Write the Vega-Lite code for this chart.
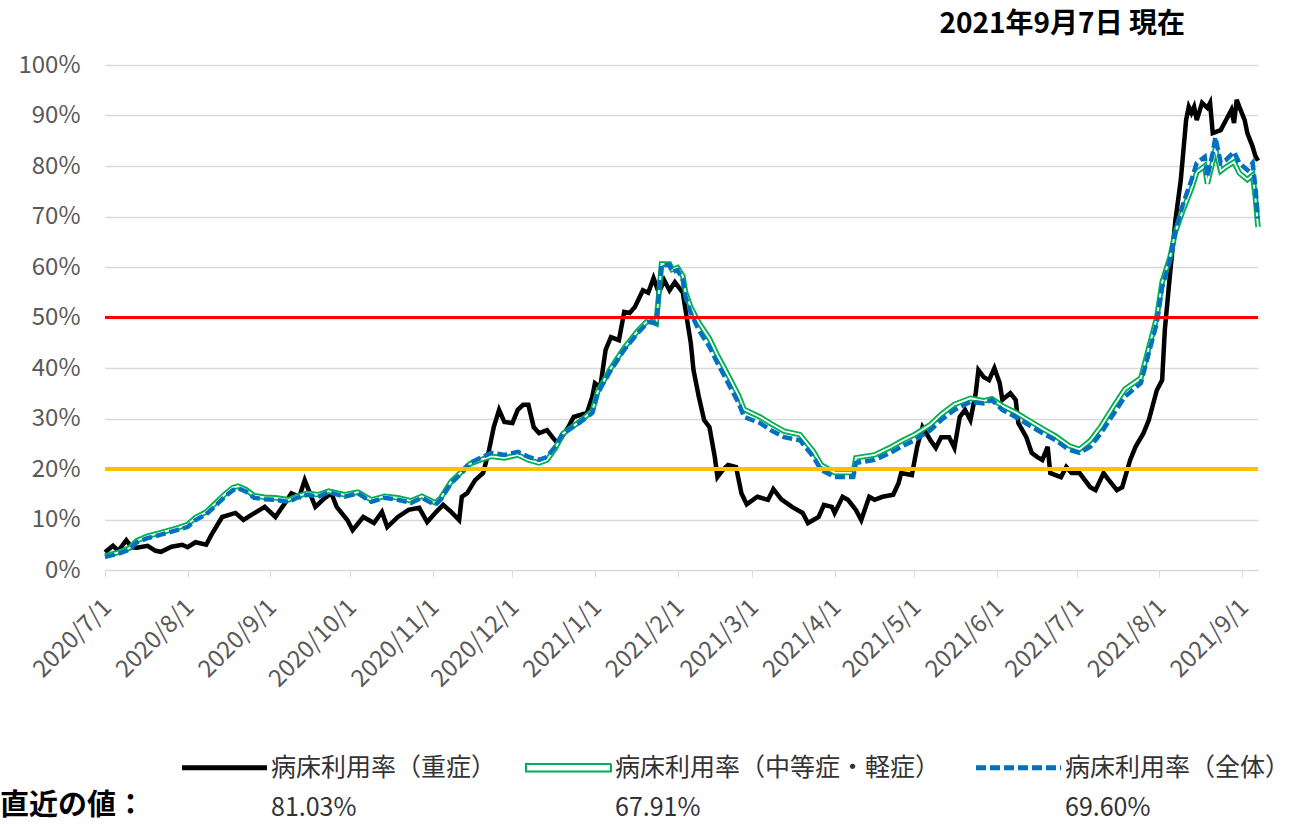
{
  "$schema": "https://vega.github.io/schema/vega-lite/v6.json",
  "autosize": {"type": "none"},
  "padding": {"left": 105, "top": 65, "right": 36, "bottom": 255},
  "width": 1153,
  "height": 505,
  "background": "white",
  "title": {"text": "2021年9月7日 現在", "anchor": "end", "frame": "group", "offset": 14, "dx": -73, "fontSize": 28, "fontWeight": "bold", "font": "Noto Sans CJK JP", "color": "#000000"},
  "config": {
    "view": {"stroke": null},
    "axis": {"labelFont": "Noto Sans CJK JP", "labelColor": "#595959", "labelFontSize": 24, "title": null},
    "legend": {
      "orient": "none",
      "legendX": -105,
      "legendY": 690,
      "direction": "horizontal",
      "padding": 0,
      "titleOrient": "left",
      "titleAnchor": "end",
      "titleBaseline": "bottom",
      "titlePadding": 66,
      "titleFont": "Noto Sans CJK JP",
      "titleFontSize": 29,
      "titleFontWeight": "bold",
      "titleColor": "#000000",
      "symbolType": "stroke",
      "symbolSize": 7225,
      "symbolStrokeWidth": 5,
      "labelFont": "Noto Sans CJK JP",
      "labelFontSize": 25,
      "labelColor": "#333333",
      "labelOffset": 7,
      "labelLimit": 600,
      "columnPadding": 25
    }
  },
  "data": {"values": [
    {"date":"2020-07-01","series":"重症","value":3.5},
    {"date":"2020-07-04","series":"重症","value":4.8},
    {"date":"2020-07-06","series":"重症","value":3.8},
    {"date":"2020-07-09","series":"重症","value":5.9},
    {"date":"2020-07-11","series":"重症","value":4.5},
    {"date":"2020-07-13","series":"重症","value":4.4},
    {"date":"2020-07-17","series":"重症","value":4.8},
    {"date":"2020-07-20","series":"重症","value":3.8},
    {"date":"2020-07-22","series":"重症","value":3.6},
    {"date":"2020-07-26","series":"重症","value":4.6},
    {"date":"2020-07-30","series":"重症","value":5.0},
    {"date":"2020-08-01","series":"重症","value":4.5},
    {"date":"2020-08-04","series":"重症","value":5.5},
    {"date":"2020-08-08","series":"重症","value":5.0},
    {"date":"2020-08-10","series":"重症","value":7.0},
    {"date":"2020-08-14","series":"重症","value":10.5},
    {"date":"2020-08-19","series":"重症","value":11.3},
    {"date":"2020-08-22","series":"重症","value":9.9},
    {"date":"2020-08-25","series":"重症","value":10.9},
    {"date":"2020-08-30","series":"重症","value":12.5},
    {"date":"2020-09-03","series":"重症","value":10.5},
    {"date":"2020-09-06","series":"重症","value":12.8},
    {"date":"2020-09-09","series":"重症","value":15.2},
    {"date":"2020-09-12","series":"重症","value":14.5},
    {"date":"2020-09-14","series":"重症","value":17.8},
    {"date":"2020-09-18","series":"重症","value":12.5},
    {"date":"2020-09-21","series":"重症","value":14.0},
    {"date":"2020-09-24","series":"重症","value":15.2},
    {"date":"2020-09-26","series":"重症","value":12.5},
    {"date":"2020-09-30","series":"重症","value":9.9},
    {"date":"2020-10-02","series":"重症","value":7.9},
    {"date":"2020-10-06","series":"重症","value":10.5},
    {"date":"2020-10-10","series":"重症","value":9.3},
    {"date":"2020-10-13","series":"重症","value":11.5},
    {"date":"2020-10-15","series":"重症","value":8.5},
    {"date":"2020-10-19","series":"重症","value":10.5},
    {"date":"2020-10-23","series":"重症","value":11.9},
    {"date":"2020-10-27","series":"重症","value":12.3},
    {"date":"2020-10-30","series":"重症","value":9.5},
    {"date":"2020-11-02","series":"重症","value":11.3},
    {"date":"2020-11-05","series":"重症","value":12.9},
    {"date":"2020-11-08","series":"重症","value":11.5},
    {"date":"2020-11-11","series":"重症","value":9.9},
    {"date":"2020-11-12","series":"重症","value":14.5},
    {"date":"2020-11-14","series":"重症","value":15.2},
    {"date":"2020-11-17","series":"重症","value":17.8},
    {"date":"2020-11-20","series":"重症","value":19.2},
    {"date":"2020-11-22","series":"重症","value":23.2},
    {"date":"2020-11-24","series":"重症","value":28.3},
    {"date":"2020-11-26","series":"重症","value":31.7},
    {"date":"2020-11-28","series":"重症","value":29.3},
    {"date":"2020-12-01","series":"重症","value":29.1},
    {"date":"2020-12-03","series":"重症","value":31.7},
    {"date":"2020-12-05","series":"重症","value":32.7},
    {"date":"2020-12-07","series":"重症","value":32.7},
    {"date":"2020-12-09","series":"重症","value":28.3},
    {"date":"2020-12-11","series":"重症","value":27.1},
    {"date":"2020-12-14","series":"重症","value":27.7},
    {"date":"2020-12-16","series":"重症","value":26.3},
    {"date":"2020-12-18","series":"重症","value":25.1},
    {"date":"2020-12-22","series":"重症","value":28.3},
    {"date":"2020-12-24","series":"重症","value":30.3},
    {"date":"2020-12-29","series":"重症","value":31.1},
    {"date":"2020-12-31","series":"重症","value":34.3},
    {"date":"2021-01-01","series":"重症","value":37.0},
    {"date":"2021-01-03","series":"重症","value":36.2},
    {"date":"2021-01-05","series":"重症","value":43.6},
    {"date":"2021-01-07","series":"重症","value":46.1},
    {"date":"2021-01-10","series":"重症","value":45.5},
    {"date":"2021-01-12","series":"重症","value":51.1},
    {"date":"2021-01-14","series":"重症","value":50.9},
    {"date":"2021-01-16","series":"重症","value":52.1},
    {"date":"2021-01-19","series":"重症","value":55.4},
    {"date":"2021-01-21","series":"重症","value":54.9},
    {"date":"2021-01-23","series":"重症","value":57.8},
    {"date":"2021-01-25","series":"重症","value":54.9},
    {"date":"2021-01-27","series":"重症","value":57.4},
    {"date":"2021-01-29","series":"重症","value":55.4},
    {"date":"2021-01-31","series":"重症","value":57.0},
    {"date":"2021-02-03","series":"重症","value":54.9},
    {"date":"2021-02-04","series":"重症","value":51.5},
    {"date":"2021-02-06","series":"重症","value":44.9},
    {"date":"2021-02-07","series":"重症","value":39.6},
    {"date":"2021-02-09","series":"重症","value":34.3},
    {"date":"2021-02-11","series":"重症","value":29.7},
    {"date":"2021-02-13","series":"重症","value":28.3},
    {"date":"2021-02-15","series":"重症","value":22.4},
    {"date":"2021-02-16","series":"重症","value":18.4},
    {"date":"2021-02-18","series":"重症","value":19.8},
    {"date":"2021-02-20","series":"重症","value":20.8},
    {"date":"2021-02-23","series":"重症","value":20.4},
    {"date":"2021-02-25","series":"重症","value":15.2},
    {"date":"2021-02-27","series":"重症","value":13.0},
    {"date":"2021-03-03","series":"重症","value":14.5},
    {"date":"2021-03-07","series":"重症","value":13.9},
    {"date":"2021-03-09","series":"重症","value":16.0},
    {"date":"2021-03-12","series":"重症","value":14.0},
    {"date":"2021-03-16","series":"重症","value":12.5},
    {"date":"2021-03-20","series":"重症","value":11.3},
    {"date":"2021-03-22","series":"重症","value":9.3},
    {"date":"2021-03-26","series":"重症","value":10.5},
    {"date":"2021-03-28","series":"重症","value":12.9},
    {"date":"2021-03-31","series":"重症","value":12.5},
    {"date":"2021-04-01","series":"重症","value":11.3},
    {"date":"2021-04-04","series":"重症","value":14.5},
    {"date":"2021-04-06","series":"重症","value":13.9},
    {"date":"2021-04-09","series":"重症","value":11.9},
    {"date":"2021-04-11","series":"重症","value":9.9},
    {"date":"2021-04-14","series":"重症","value":14.5},
    {"date":"2021-04-16","series":"重症","value":13.9},
    {"date":"2021-04-19","series":"重症","value":14.5},
    {"date":"2021-04-23","series":"重症","value":14.9},
    {"date":"2021-04-25","series":"重症","value":17.2},
    {"date":"2021-04-26","series":"重症","value":19.2},
    {"date":"2021-04-30","series":"重症","value":18.8},
    {"date":"2021-05-02","series":"重症","value":24.4},
    {"date":"2021-05-04","series":"重症","value":28.3},
    {"date":"2021-05-07","series":"重症","value":25.7},
    {"date":"2021-05-09","series":"重症","value":24.2},
    {"date":"2021-05-11","series":"重症","value":26.3},
    {"date":"2021-05-14","series":"重症","value":26.3},
    {"date":"2021-05-16","series":"重症","value":24.2},
    {"date":"2021-05-18","series":"重症","value":30.3},
    {"date":"2021-05-20","series":"重症","value":31.7},
    {"date":"2021-05-22","series":"重症","value":29.7},
    {"date":"2021-05-24","series":"重症","value":35.0},
    {"date":"2021-05-25","series":"重症","value":39.6},
    {"date":"2021-05-27","series":"重症","value":38.2},
    {"date":"2021-05-29","series":"重症","value":37.6},
    {"date":"2021-05-31","series":"重症","value":40.0},
    {"date":"2021-06-02","series":"重症","value":37.0},
    {"date":"2021-06-03","series":"重症","value":33.7},
    {"date":"2021-06-06","series":"重症","value":35.0},
    {"date":"2021-06-08","series":"重症","value":33.7},
    {"date":"2021-06-09","series":"重症","value":29.1},
    {"date":"2021-06-12","series":"重症","value":26.3},
    {"date":"2021-06-14","series":"重症","value":23.2},
    {"date":"2021-06-16","series":"重症","value":22.4},
    {"date":"2021-06-18","series":"重症","value":21.8},
    {"date":"2021-06-20","series":"重症","value":24.4},
    {"date":"2021-06-21","series":"重症","value":19.2},
    {"date":"2021-06-25","series":"重症","value":18.4},
    {"date":"2021-06-27","series":"重症","value":20.4},
    {"date":"2021-06-29","series":"重症","value":19.2},
    {"date":"2021-07-02","series":"重症","value":19.2},
    {"date":"2021-07-06","series":"重症","value":16.4},
    {"date":"2021-07-08","series":"重症","value":15.8},
    {"date":"2021-07-11","series":"重症","value":19.2},
    {"date":"2021-07-13","series":"重症","value":17.8},
    {"date":"2021-07-16","series":"重症","value":15.8},
    {"date":"2021-07-18","series":"重症","value":16.4},
    {"date":"2021-07-21","series":"重症","value":21.8},
    {"date":"2021-07-23","series":"重症","value":24.4},
    {"date":"2021-07-26","series":"重症","value":27.1},
    {"date":"2021-07-28","series":"重症","value":29.7},
    {"date":"2021-07-31","series":"重症","value":35.6},
    {"date":"2021-08-02","series":"重症","value":37.6},
    {"date":"2021-08-03","series":"重症","value":47.5},
    {"date":"2021-08-05","series":"重症","value":58.8},
    {"date":"2021-08-07","series":"重症","value":69.3},
    {"date":"2021-08-09","series":"重症","value":77.2},
    {"date":"2021-08-11","series":"重症","value":89.1},
    {"date":"2021-08-12","series":"重症","value":91.7},
    {"date":"2021-08-13","series":"重症","value":90.5},
    {"date":"2021-08-14","series":"重症","value":91.7},
    {"date":"2021-08-15","series":"重症","value":89.1},
    {"date":"2021-08-17","series":"重症","value":92.5},
    {"date":"2021-08-19","series":"重症","value":91.5},
    {"date":"2021-08-20","series":"重症","value":92.5},
    {"date":"2021-08-21","series":"重症","value":86.5},
    {"date":"2021-08-24","series":"重症","value":87.1},
    {"date":"2021-08-26","series":"重症","value":89.1},
    {"date":"2021-08-28","series":"重症","value":91.1},
    {"date":"2021-08-29","series":"重症","value":88.5},
    {"date":"2021-08-30","series":"重症","value":93.1},
    {"date":"2021-08-31","series":"重症","value":91.7},
    {"date":"2021-09-02","series":"重症","value":89.1},
    {"date":"2021-09-03","series":"重症","value":86.5},
    {"date":"2021-09-05","series":"重症","value":83.8},
    {"date":"2021-09-06","series":"重症","value":82.0},
    {"date":"2021-09-07","series":"重症","value":81.03},

    {"date":"2020-07-01","series":"中等症・軽症","value":2.8},
    {"date":"2020-07-06","series":"中等症・軽症","value":3.5},
    {"date":"2020-07-10","series":"中等症・軽症","value":4.3},
    {"date":"2020-07-13","series":"中等症・軽症","value":5.8},
    {"date":"2020-07-17","series":"中等症・軽症","value":6.7},
    {"date":"2020-07-22","series":"中等症・軽症","value":7.4},
    {"date":"2020-07-28","series":"中等症・軽症","value":8.3},
    {"date":"2020-08-01","series":"中等症・軽症","value":9.0},
    {"date":"2020-08-04","series":"中等症・軽症","value":10.4},
    {"date":"2020-08-08","series":"中等症・軽症","value":11.5},
    {"date":"2020-08-11","series":"中等症・軽症","value":13.0},
    {"date":"2020-08-15","series":"中等症・軽症","value":15.0},
    {"date":"2020-08-18","series":"中等症・軽症","value":16.3},
    {"date":"2020-08-20","series":"中等症・軽症","value":16.6},
    {"date":"2020-08-23","series":"中等症・軽症","value":15.9},
    {"date":"2020-08-26","series":"中等症・軽症","value":14.7},
    {"date":"2020-08-30","series":"中等症・軽症","value":14.4},
    {"date":"2020-09-03","series":"中等症・軽症","value":14.3},
    {"date":"2020-09-08","series":"中等症・軽症","value":13.9},
    {"date":"2020-09-11","series":"中等症・軽症","value":14.6},
    {"date":"2020-09-15","series":"中等症・軽症","value":15.2},
    {"date":"2020-09-19","series":"中等症・軽症","value":14.9},
    {"date":"2020-09-23","series":"中等症・軽症","value":15.6},
    {"date":"2020-09-29","series":"中等症・軽症","value":14.9},
    {"date":"2020-10-04","series":"中等症・軽症","value":15.4},
    {"date":"2020-10-09","series":"中等症・軽症","value":13.9},
    {"date":"2020-10-14","series":"中等症・軽症","value":14.6},
    {"date":"2020-10-19","series":"中等症・軽症","value":14.3},
    {"date":"2020-10-24","series":"中等症・軽症","value":13.7},
    {"date":"2020-10-28","series":"中等症・軽症","value":14.6},
    {"date":"2020-11-02","series":"中等症・軽症","value":13.3},
    {"date":"2020-11-04","series":"中等症・軽症","value":14.2},
    {"date":"2020-11-08","series":"中等症・軽症","value":17.5},
    {"date":"2020-11-12","series":"中等症・軽症","value":19.5},
    {"date":"2020-11-15","series":"中等症・軽症","value":21.0},
    {"date":"2020-11-19","series":"中等症・軽症","value":21.8},
    {"date":"2020-11-23","series":"中等症・軽症","value":22.5},
    {"date":"2020-11-28","series":"中等症・軽症","value":22.2},
    {"date":"2020-12-03","series":"中等症・軽症","value":22.8},
    {"date":"2020-12-07","series":"中等症・軽症","value":21.8},
    {"date":"2020-12-11","series":"中等症・軽症","value":21.2},
    {"date":"2020-12-14","series":"中等症・軽症","value":21.8},
    {"date":"2020-12-17","series":"中等症・軽症","value":24.0},
    {"date":"2020-12-20","series":"中等症・軽症","value":27.0},
    {"date":"2020-12-26","series":"中等症・軽症","value":29.3},
    {"date":"2020-12-31","series":"中等症・軽症","value":31.5},
    {"date":"2021-01-02","series":"中等症・軽症","value":35.3},
    {"date":"2021-01-07","series":"中等症・軽症","value":40.0},
    {"date":"2021-01-12","series":"中等症・軽症","value":44.0},
    {"date":"2021-01-17","series":"中等症・軽症","value":47.3},
    {"date":"2021-01-21","series":"中等症・軽症","value":49.5},
    {"date":"2021-01-24","series":"中等症・軽症","value":48.8},
    {"date":"2021-01-26","series":"中等症・軽症","value":60.6},
    {"date":"2021-01-29","series":"中等症・軽症","value":60.6},
    {"date":"2021-01-30","series":"中等症・軽症","value":59.5},
    {"date":"2021-02-01","series":"中等症・軽症","value":59.9},
    {"date":"2021-02-03","series":"中等症・軽症","value":58.2},
    {"date":"2021-02-04","series":"中等症・軽症","value":55.0},
    {"date":"2021-02-06","series":"中等症・軽症","value":52.0},
    {"date":"2021-02-09","series":"中等症・軽症","value":49.0},
    {"date":"2021-02-13","series":"中等症・軽症","value":45.8},
    {"date":"2021-02-16","series":"中等症・軽症","value":42.5},
    {"date":"2021-02-20","series":"中等症・軽症","value":38.6},
    {"date":"2021-02-24","series":"中等症・軽症","value":34.5},
    {"date":"2021-02-26","series":"中等症・軽症","value":31.8},
    {"date":"2021-03-04","series":"中等症・軽症","value":30.3},
    {"date":"2021-03-08","series":"中等症・軽症","value":29.0},
    {"date":"2021-03-13","series":"中等症・軽症","value":27.5},
    {"date":"2021-03-19","series":"中等症・軽症","value":26.8},
    {"date":"2021-03-24","series":"中等症・軽症","value":23.5},
    {"date":"2021-03-27","series":"中等症・軽症","value":20.8},
    {"date":"2021-04-01","series":"中等症・軽症","value":19.3},
    {"date":"2021-04-08","series":"中等症・軽症","value":19.3},
    {"date":"2021-04-09","series":"中等症・軽症","value":22.2},
    {"date":"2021-04-16","series":"中等症・軽症","value":22.8},
    {"date":"2021-04-22","series":"中等症・軽症","value":24.3},
    {"date":"2021-04-26","series":"中等症・軽症","value":25.5},
    {"date":"2021-05-01","series":"中等症・軽症","value":26.8},
    {"date":"2021-05-07","series":"中等症・軽症","value":28.8},
    {"date":"2021-05-11","series":"中等症・軽症","value":30.8},
    {"date":"2021-05-16","series":"中等症・軽症","value":32.8},
    {"date":"2021-05-22","series":"中等症・軽症","value":34.0},
    {"date":"2021-05-27","series":"中等症・軽症","value":33.5},
    {"date":"2021-05-30","series":"中等症・軽症","value":33.9},
    {"date":"2021-06-03","series":"中等症・軽症","value":32.5},
    {"date":"2021-06-08","series":"中等症・軽症","value":31.2},
    {"date":"2021-06-13","series":"中等症・軽症","value":29.6},
    {"date":"2021-06-18","series":"中等症・軽症","value":28.0},
    {"date":"2021-06-23","series":"中等症・軽症","value":26.5},
    {"date":"2021-06-28","series":"中等症・軽症","value":24.6},
    {"date":"2021-07-02","series":"中等症・軽症","value":23.9},
    {"date":"2021-07-06","series":"中等症・軽症","value":25.6},
    {"date":"2021-07-10","series":"中等症・軽症","value":28.4},
    {"date":"2021-07-15","series":"中等症・軽症","value":32.6},
    {"date":"2021-07-19","series":"中等症・軽症","value":35.8},
    {"date":"2021-07-25","series":"中等症・軽症","value":38.0},
    {"date":"2021-07-28","series":"中等症・軽症","value":44.0},
    {"date":"2021-07-31","series":"中等症・軽症","value":50.0},
    {"date":"2021-08-02","series":"中等症・軽症","value":57.0},
    {"date":"2021-08-05","series":"中等症・軽症","value":62.0},
    {"date":"2021-08-07","series":"中等症・軽症","value":67.0},
    {"date":"2021-08-10","series":"中等症・軽症","value":71.5},
    {"date":"2021-08-13","series":"中等症・軽症","value":75.5},
    {"date":"2021-08-15","series":"中等症・軽症","value":78.8},
    {"date":"2021-08-18","series":"中等症・軽症","value":80.0},
    {"date":"2021-08-19","series":"中等症・軽症","value":76.5},
    {"date":"2021-08-21","series":"中等症・軽症","value":80.8},
    {"date":"2021-08-22","series":"中等症・軽症","value":83.5},
    {"date":"2021-08-24","series":"中等症・軽症","value":79.0},
    {"date":"2021-08-26","series":"中等症・軽症","value":79.8},
    {"date":"2021-08-29","series":"中等症・軽症","value":80.8},
    {"date":"2021-08-31","series":"中等症・軽症","value":78.6},
    {"date":"2021-09-03","series":"中等症・軽症","value":77.3},
    {"date":"2021-09-05","series":"中等症・軽症","value":78.2},
    {"date":"2021-09-06","series":"中等症・軽症","value":73.8},
    {"date":"2021-09-07","series":"中等症・軽症","value":67.91},

    {"date":"2020-07-01","series":"全体","value":2.6},
    {"date":"2020-07-06","series":"全体","value":3.2},
    {"date":"2020-07-10","series":"全体","value":4.0},
    {"date":"2020-07-13","series":"全体","value":5.5},
    {"date":"2020-07-17","series":"全体","value":6.3},
    {"date":"2020-07-22","series":"全体","value":7.0},
    {"date":"2020-07-28","series":"全体","value":7.9},
    {"date":"2020-08-01","series":"全体","value":8.5},
    {"date":"2020-08-04","series":"全体","value":9.9},
    {"date":"2020-08-08","series":"全体","value":11.0},
    {"date":"2020-08-11","series":"全体","value":12.5},
    {"date":"2020-08-15","series":"全体","value":14.5},
    {"date":"2020-08-18","series":"全体","value":15.8},
    {"date":"2020-08-20","series":"全体","value":16.2},
    {"date":"2020-08-23","series":"全体","value":15.5},
    {"date":"2020-08-26","series":"全体","value":14.3},
    {"date":"2020-08-30","series":"全体","value":14.0},
    {"date":"2020-09-03","series":"全体","value":13.9},
    {"date":"2020-09-08","series":"全体","value":13.5},
    {"date":"2020-09-11","series":"全体","value":14.3},
    {"date":"2020-09-15","series":"全体","value":14.9},
    {"date":"2020-09-19","series":"全体","value":14.5},
    {"date":"2020-09-23","series":"全体","value":15.4},
    {"date":"2020-09-29","series":"全体","value":14.5},
    {"date":"2020-10-04","series":"全体","value":15.2},
    {"date":"2020-10-09","series":"全体","value":13.5},
    {"date":"2020-10-14","series":"全体","value":14.3},
    {"date":"2020-10-19","series":"全体","value":13.9},
    {"date":"2020-10-24","series":"全体","value":13.3},
    {"date":"2020-10-28","series":"全体","value":14.3},
    {"date":"2020-11-02","series":"全体","value":12.9},
    {"date":"2020-11-04","series":"全体","value":13.9},
    {"date":"2020-11-08","series":"全体","value":17.2},
    {"date":"2020-11-12","series":"全体","value":19.2},
    {"date":"2020-11-15","series":"全体","value":21.2},
    {"date":"2020-11-19","series":"全体","value":22.2},
    {"date":"2020-11-23","series":"全体","value":23.2},
    {"date":"2020-11-28","series":"全体","value":22.8},
    {"date":"2020-12-03","series":"全体","value":23.4},
    {"date":"2020-12-07","series":"全体","value":22.4},
    {"date":"2020-12-11","series":"全体","value":21.8},
    {"date":"2020-12-14","series":"全体","value":22.4},
    {"date":"2020-12-17","series":"全体","value":24.4},
    {"date":"2020-12-20","series":"全体","value":27.1},
    {"date":"2020-12-26","series":"全体","value":29.1},
    {"date":"2020-12-31","series":"全体","value":31.1},
    {"date":"2021-01-02","series":"全体","value":35.0},
    {"date":"2021-01-07","series":"全体","value":39.6},
    {"date":"2021-01-12","series":"全体","value":43.6},
    {"date":"2021-01-17","series":"全体","value":46.9},
    {"date":"2021-01-21","series":"全体","value":49.1},
    {"date":"2021-01-24","series":"全体","value":48.9},
    {"date":"2021-01-26","series":"全体","value":60.4},
    {"date":"2021-01-29","series":"全体","value":60.4},
    {"date":"2021-01-30","series":"全体","value":59.0},
    {"date":"2021-02-01","series":"全体","value":59.4},
    {"date":"2021-02-03","series":"全体","value":57.4},
    {"date":"2021-02-04","series":"全体","value":54.1},
    {"date":"2021-02-06","series":"全体","value":50.9},
    {"date":"2021-02-09","series":"全体","value":47.5},
    {"date":"2021-02-13","series":"全体","value":44.2},
    {"date":"2021-02-16","series":"全体","value":41.0},
    {"date":"2021-02-20","series":"全体","value":37.0},
    {"date":"2021-02-24","series":"全体","value":33.0},
    {"date":"2021-02-26","series":"全体","value":30.3},
    {"date":"2021-03-04","series":"全体","value":29.1},
    {"date":"2021-03-08","series":"全体","value":27.7},
    {"date":"2021-03-13","series":"全体","value":26.3},
    {"date":"2021-03-19","series":"全体","value":25.7},
    {"date":"2021-03-24","series":"全体","value":22.4},
    {"date":"2021-03-27","series":"全体","value":19.8},
    {"date":"2021-04-01","series":"全体","value":18.4},
    {"date":"2021-04-08","series":"全体","value":18.4},
    {"date":"2021-04-09","series":"全体","value":21.2},
    {"date":"2021-04-16","series":"全体","value":21.8},
    {"date":"2021-04-22","series":"全体","value":23.2},
    {"date":"2021-04-26","series":"全体","value":24.4},
    {"date":"2021-05-01","series":"全体","value":25.7},
    {"date":"2021-05-07","series":"全体","value":27.7},
    {"date":"2021-05-11","series":"全体","value":29.7},
    {"date":"2021-05-16","series":"全体","value":31.7},
    {"date":"2021-05-22","series":"全体","value":33.3},
    {"date":"2021-05-27","series":"全体","value":33.0},
    {"date":"2021-05-30","series":"全体","value":33.7},
    {"date":"2021-06-03","series":"全体","value":31.7},
    {"date":"2021-06-08","series":"全体","value":30.3},
    {"date":"2021-06-13","series":"全体","value":28.7},
    {"date":"2021-06-18","series":"全体","value":27.1},
    {"date":"2021-06-23","series":"全体","value":25.7},
    {"date":"2021-06-28","series":"全体","value":23.8},
    {"date":"2021-07-02","series":"全体","value":23.2},
    {"date":"2021-07-06","series":"全体","value":24.4},
    {"date":"2021-07-10","series":"全体","value":27.1},
    {"date":"2021-07-15","series":"全体","value":31.1},
    {"date":"2021-07-19","series":"全体","value":34.3},
    {"date":"2021-07-25","series":"全体","value":37.0},
    {"date":"2021-07-28","series":"全体","value":43.0},
    {"date":"2021-07-31","series":"全体","value":48.9},
    {"date":"2021-08-02","series":"全体","value":56.0},
    {"date":"2021-08-05","series":"全体","value":61.4},
    {"date":"2021-08-07","series":"全体","value":67.3},
    {"date":"2021-08-10","series":"全体","value":72.7},
    {"date":"2021-08-13","series":"全体","value":77.2},
    {"date":"2021-08-15","series":"全体","value":80.6},
    {"date":"2021-08-18","series":"全体","value":81.8},
    {"date":"2021-08-19","series":"全体","value":77.8},
    {"date":"2021-08-21","series":"全体","value":82.6},
    {"date":"2021-08-22","series":"全体","value":85.7},
    {"date":"2021-08-24","series":"全体","value":80.6},
    {"date":"2021-08-26","series":"全体","value":81.2},
    {"date":"2021-08-29","series":"全体","value":82.8},
    {"date":"2021-08-31","series":"全体","value":80.6},
    {"date":"2021-09-03","series":"全体","value":79.2},
    {"date":"2021-09-05","series":"全体","value":80.6},
    {"date":"2021-09-06","series":"全体","value":75.8},
    {"date":"2021-09-07","series":"全体","value":69.6}
  ]},
  "layer": [
    {
      "transform": [{"filter": "datum.series === '重症'"}],
      "mark": {"type": "line", "strokeWidth": 4.5, "strokeJoin": "miter"},
      "encoding": {
        "x": {"field": "date", "type": "temporal", "scale": {"type": "utc", "domain": [{"year": 2020, "month": 7, "date": 1, "utc": true}, {"year": 2021, "month": 9, "date": 7, "utc": true}], "nice": false},
          "axis": {"format": "%Y/%-m/%-d", "tickCount": {"interval": "month", "step": 1}, "labelAngle": -45, "labelPadding": 18, "labelOffset": -6, "tickSize": 7, "tickColor": "#d9d9d9", "domainColor": "#d9d9d9", "grid": false, "labelOverlap": false}},
        "y": {"field": "value", "type": "quantitative", "scale": {"domain": [0, 100], "nice": false},
          "axis": {"values": [0, 10, 20, 30, 40, 50, 60, 70, 80, 90, 100], "labelExpr": "datum.value + '%'", "ticks": false, "tickSize": 0, "domain": false, "labelPadding": 25, "gridColor": "#d9d9d9", "gridWidth": 1.3}},
        "color": {"field": "series", "type": "nominal",
          "scale": {"domain": ["重症", "中等症・軽症", "全体"], "range": ["#000000", "#00b050", "#0070c0"]},
          "legend": {
            "title": "直近の値：",
            "labelExpr": "['病床利用率（' + datum.label + '）', datum.label === '重症' ? '81.03%' : datum.label === '全体' ? '69.60%' : '67.91%']",
            "encode": {
              "labels": {"update": {"dx": {"value": 27}, "lineHeight": {"value": 40}}},
              "symbols": {"update": {
                "shape": {"signal": "datum.value === '中等症・軽症' ? 'M-1,-0.09H1V0.09H-1Z' : 'stroke'"},
                "strokeWidth": {"signal": "datum.value === '中等症・軽症' ? 2 : 5"},
                "strokeDash": {"signal": "datum.value === '全体' ? [10, 4] : [1, 0]"},
                "fill": {"value": "#ffffff"}
              }}
            }
          }
        }
      }
    },
    {
      "transform": [{"filter": "datum.series === '中等症・軽症'"}],
      "mark": {"type": "line", "strokeWidth": 5.5},
      "encoding": {
        "x": {"field": "date", "type": "temporal"},
        "y": {"field": "value", "type": "quantitative"},
        "color": {"field": "series", "type": "nominal"}
      }
    },
    {
      "transform": [{"filter": "datum.series === '中等症・軽症'"}],
      "mark": {"type": "line", "strokeWidth": 1.8, "color": "#ffffff"},
      "encoding": {
        "x": {"field": "date", "type": "temporal"},
        "y": {"field": "value", "type": "quantitative"}
      }
    },
    {
      "transform": [{"filter": "datum.series === '全体'"}],
      "mark": {"type": "line", "strokeWidth": 4.5, "strokeDash": [10, 4]},
      "encoding": {
        "x": {"field": "date", "type": "temporal"},
        "y": {"field": "value", "type": "quantitative"},
        "color": {"field": "series", "type": "nominal"}
      }
    },
    {
      "mark": {"type": "rule", "color": "#ff0000", "strokeWidth": 3},
      "encoding": {"y": {"datum": 50}}
    },
    {
      "mark": {"type": "rule", "color": "#ffc000", "strokeWidth": 4},
      "encoding": {"y": {"datum": 20}}
    }
  ]
}
